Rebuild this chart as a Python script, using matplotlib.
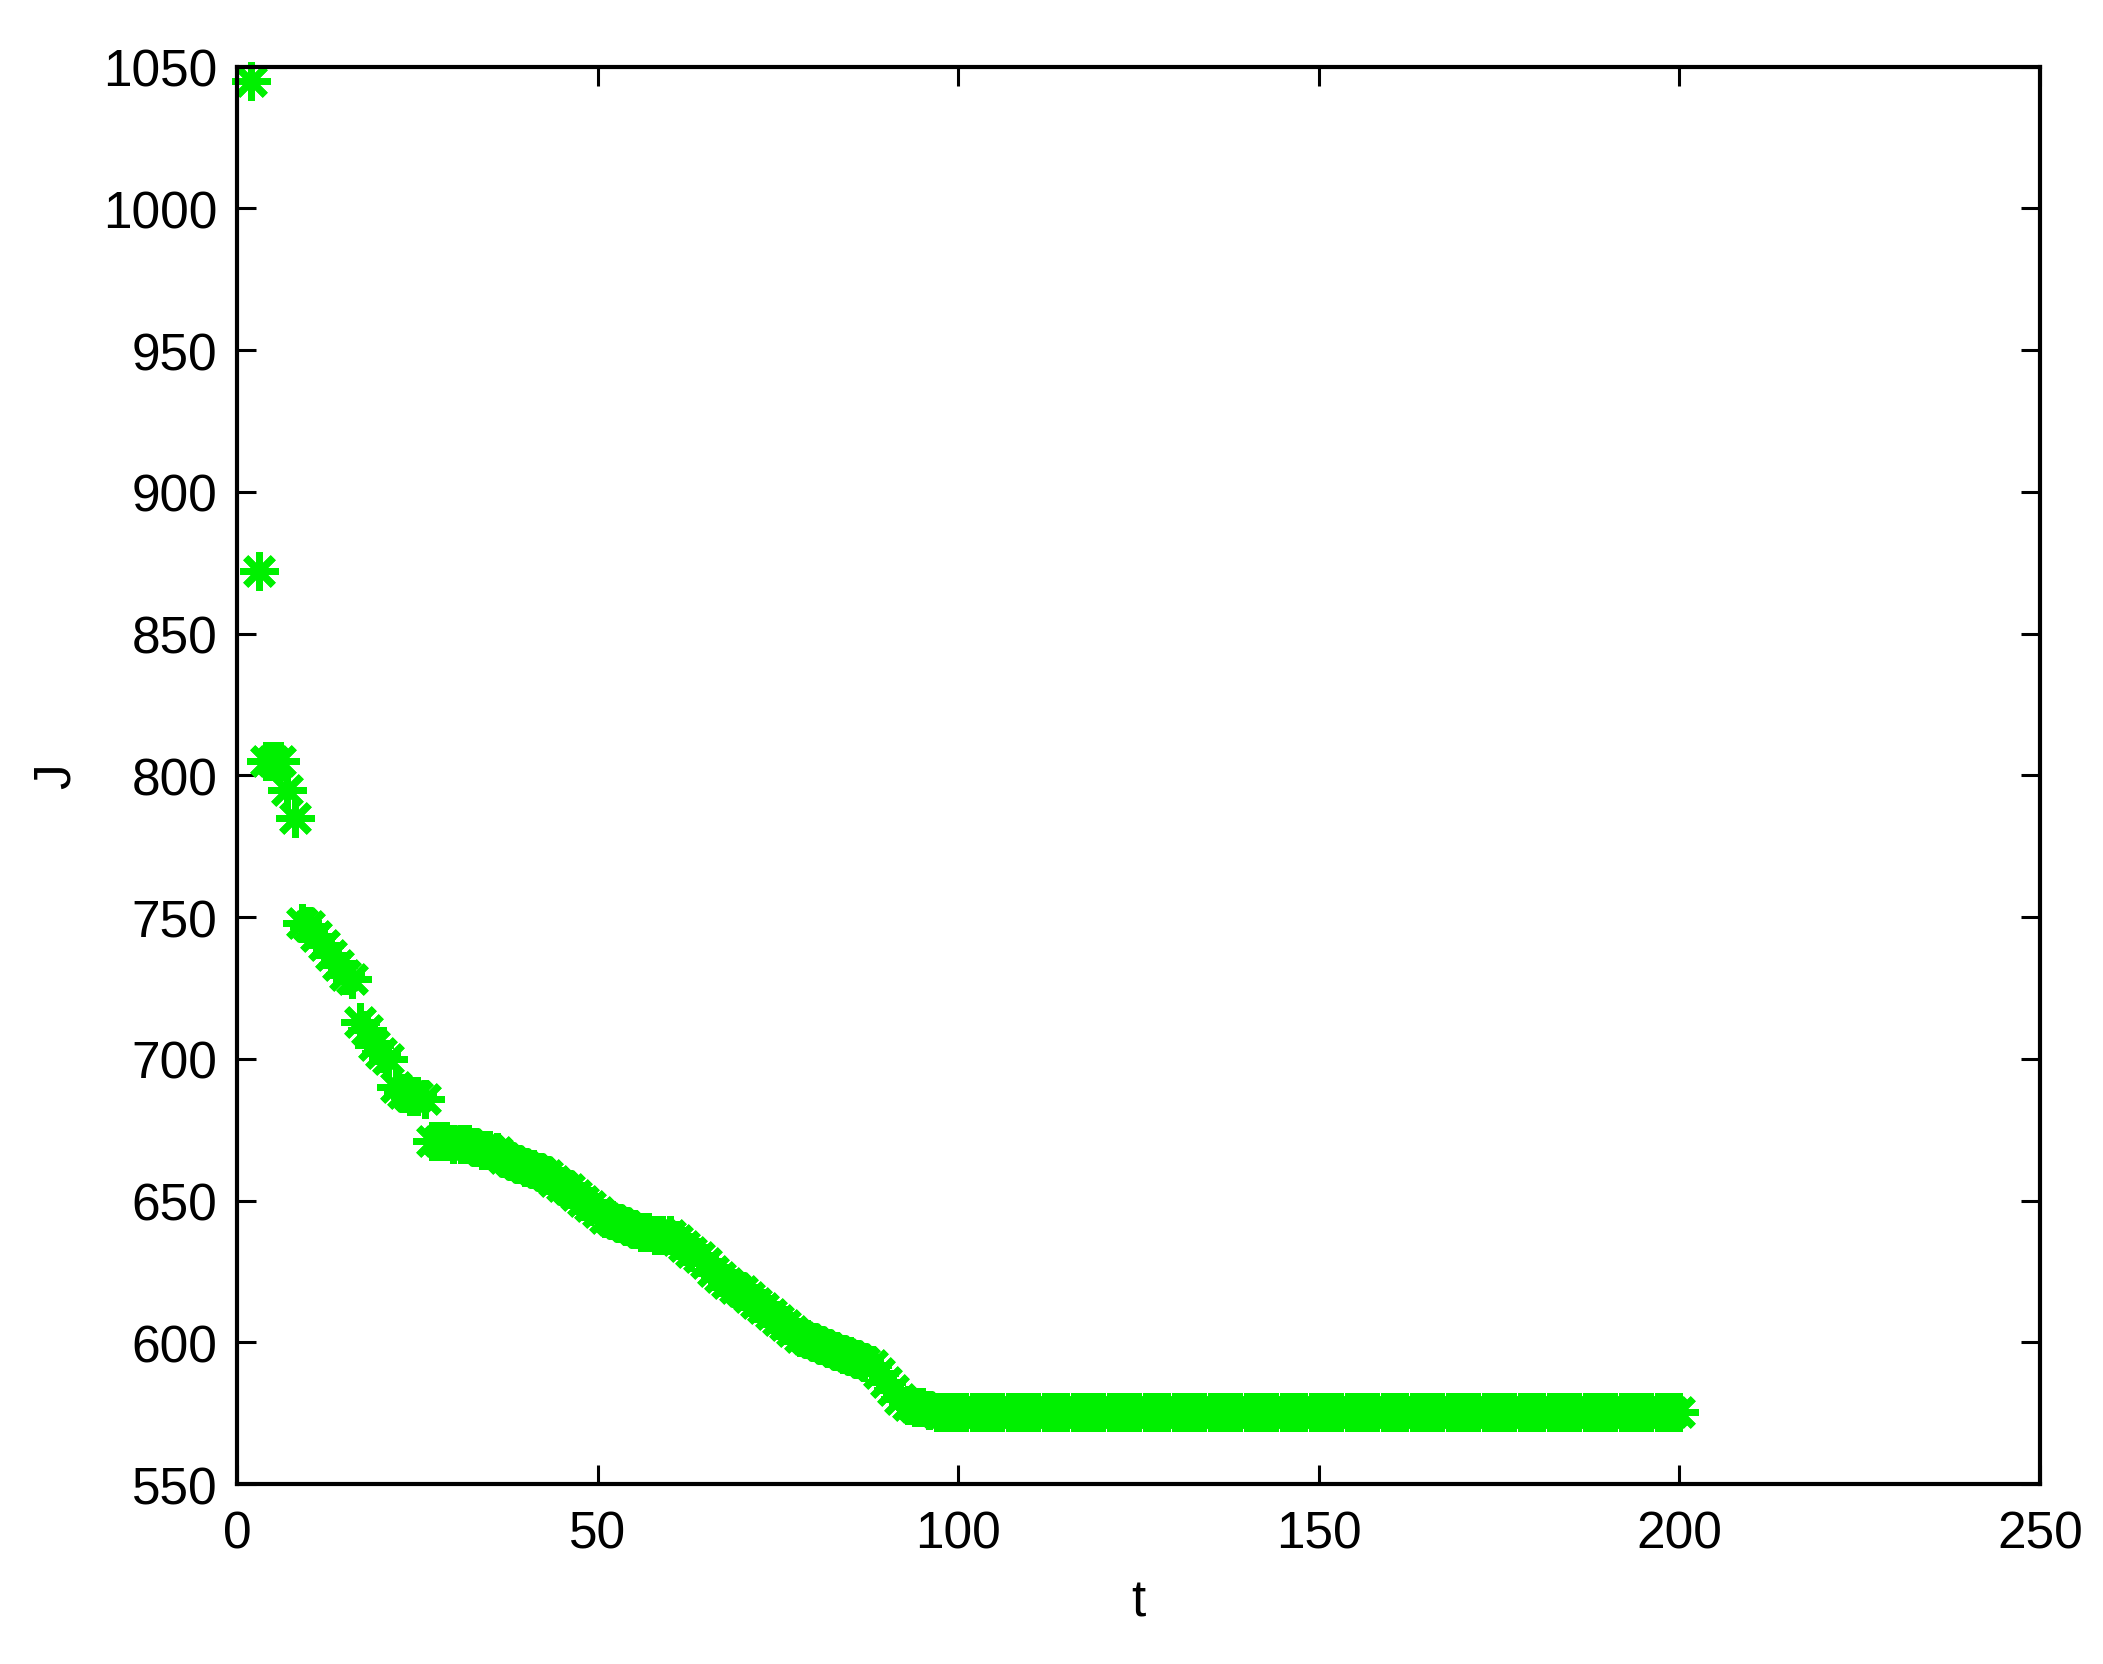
import matplotlib
matplotlib.use("Agg")
import matplotlib.pyplot as plt

# iteration index
t_start = 2
t_end = 200

# objective value J per iteration
J_values = [
    1045, 872, 805, 805, 805, 795, 785, 748, 747, 743.5,
    740, 736.5, 733, 729.5, 728, 713, 710, 705, 702, 700,
    690, 688, 687, 687, 686, 671, 671, 671, 670, 670,
    670, 669, 668, 668, 667, 665, 664, 663, 662, 661,
    660, 659, 657, 655, 654, 652, 650, 648, 646, 644,
    643, 642, 641, 640, 639, 639, 638, 638, 638, 636,
    634, 632, 630, 628, 625, 623, 621, 619, 618, 616,
    614, 612, 610, 608, 606, 604, 602, 601, 600, 599,
    598, 597, 596, 595, 594, 593, 592, 589, 586, 583,
    580, 578, 577, 577, 576, 575.5, 575.5, 575.5, 575.5, 575.5,
    575.5, 575.5, 575.5, 575.5, 575.5, 575.5, 575.5, 575.5, 575.5, 575.5,
    575.5, 575.5, 575.5, 575.5, 575.5, 575.5, 575.5, 575.5, 575.5, 575.5,
    575.5, 575.5, 575.5, 575.5, 575.5, 575.5, 575.5, 575.5, 575.5, 575.5,
    575.5, 575.5, 575.5, 575.5, 575.5, 575.5, 575.5, 575.5, 575.5, 575.5,
    575.5, 575.5, 575.5, 575.5, 575.5, 575.5, 575.5, 575.5, 575.5, 575.5,
    575.5, 575.5, 575.5, 575.5, 575.5, 575.5, 575.5, 575.5, 575.5, 575.5,
    575.5, 575.5, 575.5, 575.5, 575.5, 575.5, 575.5, 575.5, 575.5, 575.5,
    575.5, 575.5, 575.5, 575.5, 575.5, 575.5, 575.5, 575.5, 575.5, 575.5,
    575.5, 575.5, 575.5, 575.5, 575.5, 575.5, 575.5, 575.5, 575.5, 575.5,
    575.5, 575.5, 575.5, 575.5, 575.5, 575.5, 575.5, 575.5, 575.5,
]
t_values = list(range(t_start, t_start + len(J_values)))

x_ticks = [0, 50, 100, 150, 200, 250]
y_ticks = [550, 600, 650, 700, 750, 800, 850, 900, 950, 1000, 1050]

plt.rcParams['font.family'] = ['Liberation Sans', 'DejaVu Sans']

fig = plt.figure(figsize=(21.03, 16.65), dpi=100)
ax = fig.add_axes([0.1127, 0.1081, 0.9700 - 0.1127, 0.9593 - 0.1081])

ax.plot(t_values, J_values, linestyle='none', marker=(8, 2, 0),
        markersize=28, markeredgewidth=5, color='#00ff00',
        markeredgecolor='#00f000', clip_on=False)

ax.set_xlim(0, 250)
ax.set_ylim(550, 1050)
ax.set_xticks(x_ticks)
ax.set_yticks(y_ticks)
ax.set_xticklabels([str(v) for v in x_ticks])
ax.set_yticklabels([str(v) for v in y_ticks])

ax.tick_params(axis='both', which='both', direction='in', length=14, width=2.2,
               top=True, right=True, labelsize=37, colors='black')
ax.tick_params(axis='x', pad=18)
ax.tick_params(axis='y', pad=14)
for s in ax.spines.values():
    s.set_linewidth(3)
    s.set_color('black')

ax.set_xlabel('t', fontsize=37, labelpad=14)
ax.set_ylabel('J', fontsize=37, labelpad=16)

fig.savefig('out.png', dpi=100, facecolor='white')
